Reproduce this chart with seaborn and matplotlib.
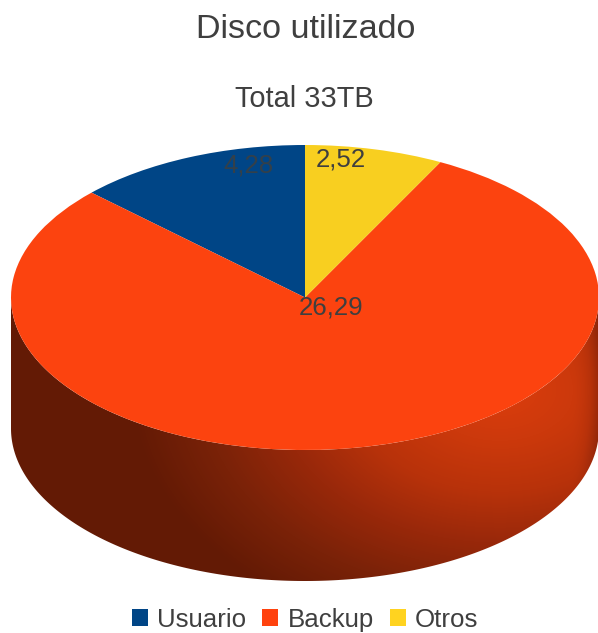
import numpy as np
import matplotlib
matplotlib.use("Agg")
import matplotlib.pyplot as plt
import seaborn as sns
from matplotlib.patches import Polygon

names = ["Usuario", "Backup", "Otros"]
values = [4.28, 26.29, 2.52]
value_labels = ["4,28", "26,29", "2,52"]
colors = ["#004586", "#ff420e", "#ffd320"]
top_colors = ["#004586", "#fc430f", "#f8cf20"]
label_colors = ["#33404a", "#3f3f3f", "#3f3f3f"]

W, H = 598, 633
CX, CY, RX, RY, DEPTH = 305, 297.5, 294, 152.5, 131

sns.set_theme(style="white")
plt.rcParams["font.family"] = ["Liberation Sans", "DejaVu Sans"]
text_color = "#3f3f3f"

fig = plt.figure(figsize=(W / 100, H / 100), dpi=100)
ax = fig.add_axes([0, 0, 1, 1])

# top of the cake, the squashed axes turn the circle into an ellipse
wedges, _ = ax.pie(values, colors=top_colors, startangle=90, counterclock=True,
                   wedgeprops={"linewidth": 0})
for w in wedges:
    w.set_zorder(3)

xlim = (-CX / RX, (W - CX) / RX)
ylim = ((CY - H) / RY, CY / RY)

# shading of the side wall
px, py = np.meshgrid(np.arange(W) + 0.5, np.arange(H) + 0.5)
dist = np.sqrt((px - 500) ** 2 + (1.45 * (py - 390)) ** 2)
t = np.clip(dist / 370, 0, 1)
t = t + 0.3 * np.clip((px - 570) / 28, 0, 1) ** 2
wall_cmap = sns.blend_palette(["#dc3d0d", "#cc390c", "#b8320a", "#98280a", "#7a2208", "#631a05"],
                              as_cmap=True)
img = ax.imshow(t, cmap=wall_cmap, vmin=0, vmax=1, extent=(xlim[0], xlim[1], ylim[0], ylim[1]),
                origin="upper", aspect="auto", zorder=1, interpolation="bilinear")
theta = np.linspace(np.pi, 2 * np.pi, 300)
d = DEPTH / RY
outline = np.vstack([np.column_stack([np.cos(theta), np.sin(theta)]),
                     np.column_stack([np.cos(theta[::-1]), np.sin(theta[::-1]) - d])])
clip = Polygon(outline, closed=True, transform=ax.transData, facecolor="none", edgecolor="none")
ax.add_patch(clip)
img.set_clip_path(clip)

ax.set_aspect("auto")
ax.set_xlim(xlim)
ax.set_ylim(ylim)
ax.axis("off")


def fx(x):
    return x / W


def fy(y):
    return 1 - y / H


fig.text(fx(306), fy(29), "Disco utilizado", fontsize=24.6, color=text_color, ha="center", va="center")
fig.text(fx(304.5), fy(99), "Total 33TB", fontsize=20.9, color=text_color, ha="center", va="center")

label_pos = [(248, 165), (331, 308), (341, 160)]
for txt, (x, y), c in zip(value_labels, label_pos, label_colors):
    ax.text(fx(x), fy(y), txt, transform=fig.transFigure, fontsize=18.6, color=c,
            ha="center", va="center", zorder=5)

leg = fig.legend(wedges, names, ncol=3, loc="lower center", bbox_to_anchor=(fx(305), fy(652.5)),
                 frameon=False, fontsize=18.6, labelcolor=text_color, handlelength=0.62,
                 handleheight=0.62, handletextpad=0.36, columnspacing=0.62, borderpad=0.3)
for h, c in zip(leg.legend_handles, colors):
    h.set_facecolor(c)

fig.savefig("out.png", dpi=100)
